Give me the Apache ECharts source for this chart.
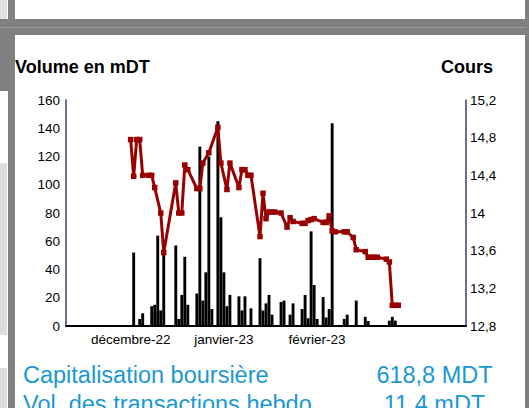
<!DOCTYPE html>
<html><head><meta charset="utf-8">
<script src="https://cdn.jsdelivr.net/npm/echarts@6/dist/echarts.min.js"></script>
<style>
html,body{margin:0;padding:0;width:529px;height:408px;overflow:hidden;background:#fff;font-family:"Liberation Sans",Arial,sans-serif;}
.b{position:absolute;}
#chart{position:absolute;left:0;top:0;width:529px;height:408px;}
</style></head><body>
<div class="b" style="left:0;top:0;width:7px;height:19px;background:#e0e0e0"></div>
<div class="b" style="left:0;top:19px;width:8px;height:72px;background:#808080"></div>
<div class="b" style="left:0;top:163px;width:7px;height:172px;background:#dcdcdc"></div>
<div class="b" style="left:0;top:368px;width:7px;height:40px;background:#dcdcdc"></div>
<div class="b" style="left:8px;top:0;width:7px;height:408px;background:#808080"></div>
<div class="b" style="left:0;top:19px;width:529px;height:16px;background:#808080"></div>
<div class="b" style="left:0;top:27px;width:529px;height:1px;background:#969696"></div>
<div class="b" style="left:525px;top:0;width:4px;height:408px;background:#808080"></div>
<div id="chart"></div>
<script>
// x axis: one category per calendar day
const startDate = '2022-11-10';
const dayCount = 133;
const xTickDates = ['2022-12-01', '2023-01-01', '2023-02-01'];
const xTickLabels = ['décembre-22', 'janvier-23', 'février-23'];

// Volume en mDT (bars)
const volumeDates = ['2022-12-02','2022-12-04','2022-12-05','2022-12-08','2022-12-09','2022-12-10','2022-12-11','2022-12-12',
 '2022-12-16','2022-12-17','2022-12-18','2022-12-19','2022-12-20',
 '2022-12-23','2022-12-24','2022-12-25','2022-12-26','2022-12-27','2022-12-28','2022-12-30','2022-12-31','2023-01-01','2023-01-02','2023-01-03',
 '2023-01-06','2023-01-07','2023-01-08','2023-01-10',
 '2023-01-13','2023-01-14','2023-01-15','2023-01-16','2023-01-17',
 '2023-01-20','2023-01-21','2023-01-23','2023-01-24',
 '2023-01-27','2023-01-28','2023-01-29','2023-01-30','2023-01-31','2023-02-01',
 '2023-02-03','2023-02-04','2023-02-05','2023-02-06',
 '2023-02-10','2023-02-11','2023-02-14','2023-02-17','2023-02-18','2023-02-25','2023-02-26','2023-02-27'];
const volumeValues = [52,5,9,14,15,64,11,51,
 57,5,22,49,15,
 23,127,18,38,120,12,145,77,38,14,22,
 21,11,21,12.5,
 48,11,16,22,8,
 17,18,8,16,
 12,22,5.5,67,29,5,
 20.5,6,12,143.5,
 5,8,18,6.5,3.5,3.8,6.5,3.8];

// Cours (line)
const priceDates = ['2022-12-01','2022-12-02','2022-12-03','2022-12-04','2022-12-05','2022-12-07','2022-12-08','2022-12-09','2022-12-11','2022-12-12',
 '2022-12-16','2022-12-17','2022-12-18','2022-12-19','2022-12-20',
 '2022-12-23','2022-12-24','2022-12-25','2022-12-27','2022-12-30','2022-12-31','2023-01-02','2023-01-03',
 '2023-01-06','2023-01-07','2023-01-08','2023-01-09','2023-01-10',
 '2023-01-13','2023-01-14','2023-01-15','2023-01-16','2023-01-17','2023-01-18',
 '2023-01-20','2023-01-22','2023-01-23','2023-01-24',
 '2023-01-27','2023-01-28','2023-01-29','2023-01-30','2023-01-31',
 '2023-02-03','2023-02-04','2023-02-05','2023-02-06','2023-02-07',
 '2023-02-10','2023-02-11','2023-02-13','2023-02-14',
 '2023-02-17','2023-02-18','2023-02-19','2023-02-20','2023-02-21',
 '2023-02-24','2023-02-25','2023-02-26','2023-02-27','2023-02-28'];
const priceValues = [14.78,14.39,14.78,14.78,14.40,14.40,14.40,14.27,14.00,13.58,
 14.32,14.00,14.00,14.51,14.46,
 14.26,14.26,14.53,14.64,14.91,14.53,14.25,14.53,
 14.27,14.46,14.46,14.40,14.40,
 13.75,14.21,13.94,14.01,14.01,14.01,
 14.00,13.85,13.95,13.91,
 13.89,13.89,13.92,13.93,13.94,
 13.90,13.90,13.97,13.81,13.80,
 13.80,13.80,13.74,13.61,
 13.59,13.53,13.53,13.53,13.53,
 13.51,13.48,13.02,13.02,13.02];

function ymd(d){const m=d.getUTCMonth()+1, day=d.getUTCDate();return d.getUTCFullYear()+'-'+(m<10?'0':'')+m+'-'+(day<10?'0':'')+day;}
const categories = [];
{ const t0 = Date.parse(startDate + 'T00:00:00Z'); for (let i=0;i<dayCount;i++) categories.push(ymd(new Date(t0 + i*86400000))); }
const volMap = {}; volumeDates.forEach((d,i)=>volMap[d]=volumeValues[i]);
const priceMap = {}; priceDates.forEach((d,i)=>priceMap[d]=priceValues[i]);
const volSeries = categories.map(c => c in volMap ? volMap[c] : null);
const priceSeries = categories.map(c => c in priceMap ? priceMap[c] : null);

const FONT = '"Liberation Sans", Arial, sans-serif';
const chart = echarts.init(document.getElementById('chart'), null, {renderer:'svg'});
chart.setOption({
  animation:false,
  backgroundColor:'transparent',
  grid:{left:66, right:63, top:100, bottom:82, containLabel:false},
  xAxis:{type:'category', data:categories, boundaryGap:true,
    axisLine:{lineStyle:{color:'#000', width:2}},
    axisTick:{show:false},
    axisLabel:{interval:(idx,val)=>xTickDates.indexOf(val)>=0,
      formatter:v=>{const k=xTickDates.indexOf(v);return k>=0?xTickLabels[k]:'';},
      color:'#000', fontSize:13.5, fontFamily:FONT, margin:6}
  },
  yAxis:[
    {type:'value', min:0, max:160, interval:20, position:'left',
     axisLine:{show:true, lineStyle:{color:'#35407a', width:1.5}},
     axisTick:{show:false}, splitLine:{show:false},
     axisLabel:{color:'#000', fontSize:13.5, fontFamily:FONT, margin:6}},
    {type:'value', min:12.8, max:15.2, interval:0.4, position:'right',
     axisLine:{show:true, lineStyle:{color:'#35407a', width:1.5}},
     axisTick:{show:false}, splitLine:{show:false},
     axisLabel:{color:'#000', fontSize:13.5, fontFamily:FONT, margin:4,
       formatter:v=>String(Math.round(v*10)/10).replace('.',',')}}
  ],
  series:[
    {type:'bar', data:volSeries, yAxisIndex:0, barWidth:2.9, itemStyle:{color:'#000'}, z:2},
    {type:'line', data:priceSeries, yAxisIndex:1, connectNulls:true, showAllSymbol:true,
     symbol:'rect', symbolSize:5.5, lineStyle:{color:'#990000', width:3},
     itemStyle:{color:'#990000'}, z:3}
  ],
  graphic:[
    {type:'text', left:15, top:58, style:{text:'Volume en mDT', font:'bold 18px '+FONT, fill:'#000'}},
    {type:'text', right:36, top:58, style:{text:'Cours', font:'bold 18px '+FONT, fill:'#000'}},
    {type:'text', style:{x:23, y:375, text:'Capitalisation boursière', font:'23.5px '+FONT, fill:'#1a98d5', verticalAlign:'middle'}},
    {type:'text', style:{x:434.5, y:375, text:'618,8 MDT', font:'23.5px '+FONT, fill:'#1a98d5', align:'center', verticalAlign:'middle'}},
    {type:'text', style:{x:23, y:404, text:'Vol. des transactions hebdo', font:'23.5px '+FONT, fill:'#1a98d5', verticalAlign:'middle'}},
    {type:'text', style:{x:434.5, y:404, text:'11,4 mDT', font:'23.5px '+FONT, fill:'#1a98d5', align:'center', verticalAlign:'middle'}}
  ]
});
</script>
</body></html>
